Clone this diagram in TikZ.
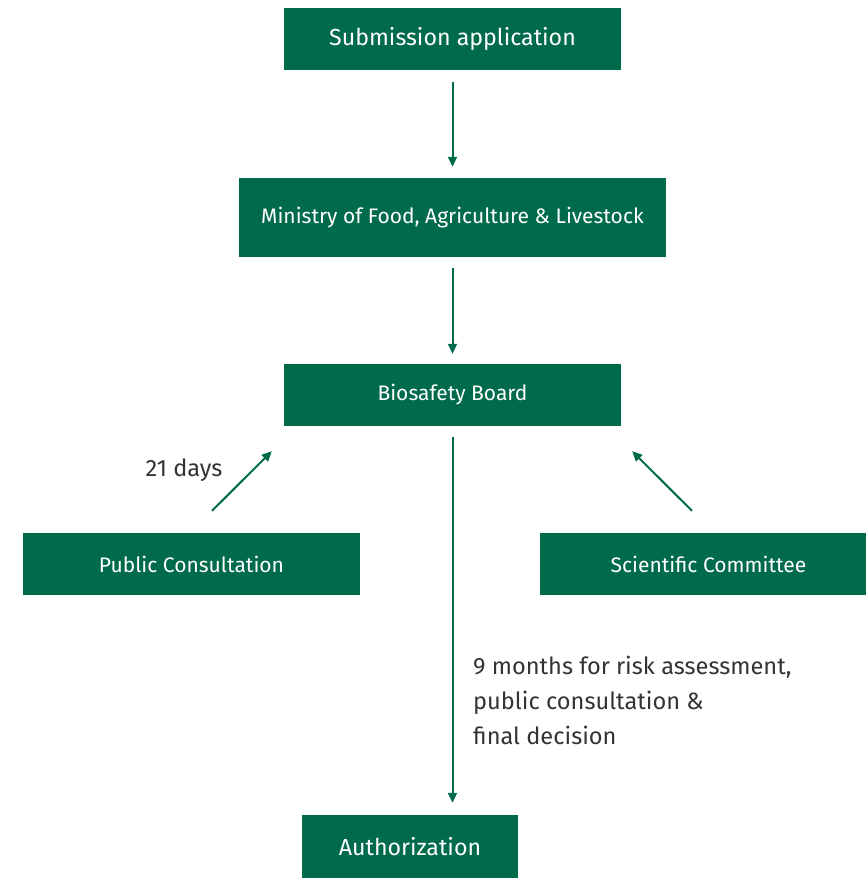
\documentclass[tikz,border=0pt]{standalone}
\usepackage{fontspec}
\setmainfont{Fira Sans}
\usetikzlibrary{arrows.meta}
\definecolor{boxgreen}{HTML}{006B4B}
\definecolor{labelgray}{HTML}{333333}

\begin{document}
\begin{tikzpicture}[x=1pt,y=-1pt,>={Triangle[length=10pt,width=9pt]},
stufe/.style={rectangle,fill=boxgreen,text=white,inner sep=0pt,minimum height=62pt,font=\fontsize{21}{24}\selectfont},
hinweis/.style={text=labelgray,inner sep=0pt,font=\fontsize{23.6}{35}\selectfont}
]

\useasboundingbox (0,0) rectangle (866,878);

\node[stufe,minimum width=337pt,font=\fontsize{23.2}{26}\selectfont](submission) at (452.5,39){Submission application};
\node[stufe,minimum width=427pt,minimum height=79pt](ministry) at (452.5,217.5){Ministry of Food, Agriculture \& Livestock};
\node[stufe,minimum width=337pt](board) at (452.5,395){Biosafety Board};
\node[stufe,minimum width=337pt](public) at (191.5,564){Public Consultation};
\node[stufe,minimum width=337pt](science) at (708.5,564){Scientific Committee};
\node[stufe,minimum width=216pt,minimum height=63pt,font=\fontsize{23.2}{26}\selectfont](authorization) at (410,846.5){Authorization};

\node[hinweis](days) at (184,470){21 days};
\node[hinweis,anchor=north west,align=left](months) at (473,656){9 months for risk assessment,\\public consultation \&\\final decision};

\begin{scope}[->, boxgreen, line width=2pt]
\draw[shorten <=12pt, shorten >=11pt] (submission.south)--(ministry.north);
\draw[shorten <=11pt, shorten >=10pt] (ministry.south)--(board.north);
\draw[shorten <=11pt, shorten >=12pt] (board.south)--(board.south |- authorization.north);
\draw ([shift={(20.5pt,22pt)}]public.north)--([shift={(-12pt,-25pt)}]board.south west);
\draw ([shift={(-16.5pt,22pt)}]science.north)--([shift={(11pt,-25pt)}]board.south east);
\end{scope}

\end{tikzpicture}
\end{document}
